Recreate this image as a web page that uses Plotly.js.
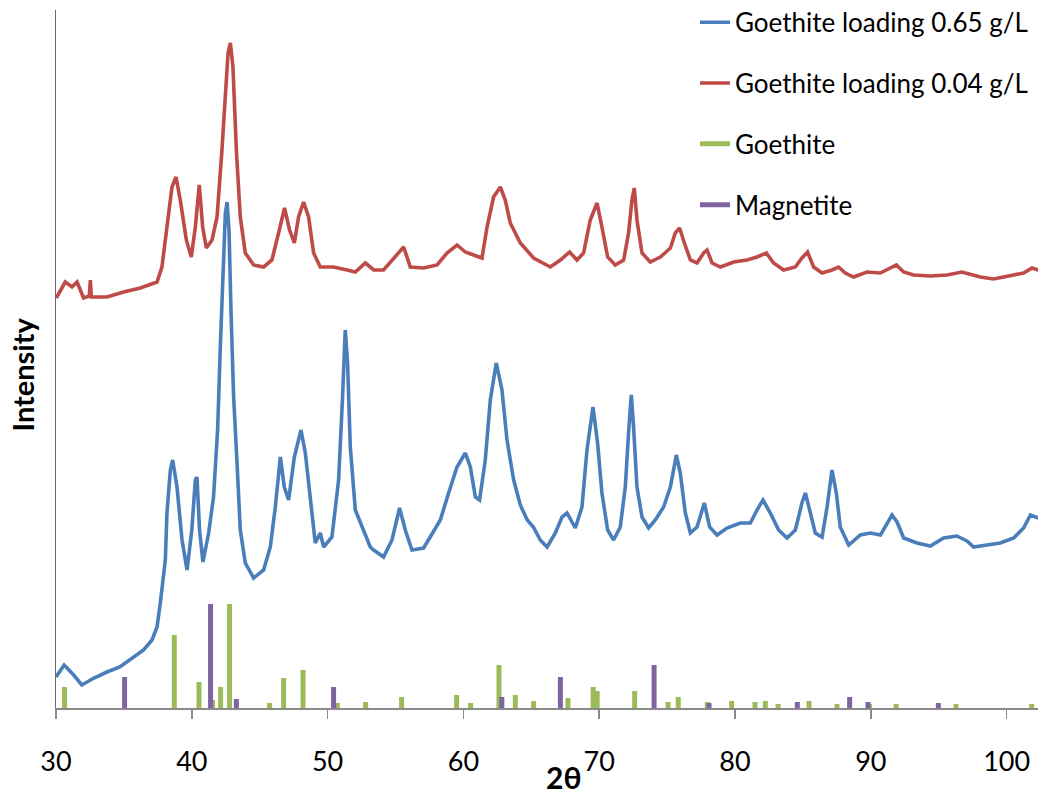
<!DOCTYPE html>
<html>
<head>
<meta charset="utf-8">
<script src="https://cdn.plot.ly/plotly-3.0.1.min.js"></script>
<style>
  html, body { margin: 0; padding: 0; background: #fff; }
  #chart { width: 1042px; height: 798px; }
</style>
</head>
<body>
<div id="chart"></div>
<script>
// ---- Data (2θ in degrees, intensity in arbitrary units) ----
const seriesNames = ["Goethite loading 0.65 g/L", "Goethite loading 0.04 g/L", "Goethite", "Magnetite"];

const blue2Theta = [30.0, 30.6, 31.3, 31.9, 32.8, 33.75, 34.7, 35.7, 36.45, 37.07, 37.44, 37.68, 37.88, 38.05, 38.17, 38.42, 38.59, 38.91, 39.28, 39.65, 40.0, 40.26, 40.38, 40.57, 40.82, 41.24, 41.6, 41.9, 42.1, 42.3, 42.47, 42.6, 42.74, 42.89, 43.08, 43.33, 43.57, 43.94, 44.55, 45.29, 45.78, 46.15, 46.52, 46.81, 47.13, 47.55, 48.04, 48.36, 48.73, 49.09, 49.46, 49.71, 50.32, 50.81, 51.1, 51.3, 51.47, 51.67, 52.04, 52.41, 53.14, 53.39, 54.12, 54.74, 55.3, 55.72, 56.21, 57.07, 57.69, 58.3, 58.91, 59.53, 60.14, 60.51, 60.88, 61.19, 61.61, 61.98, 62.42, 62.84, 63.21, 63.7, 64.19, 64.7, 65.15, 65.66, 66.16, 66.77, 67.26, 67.63, 68.24, 68.73, 69.1, 69.54, 69.88, 70.2, 70.62, 71.06, 71.55, 71.92, 72.16, 72.36, 72.53, 72.78, 73.15, 73.64, 74.13, 74.74, 75.24, 75.68, 75.97, 76.34, 76.71, 77.2, 77.74, 78.13, 78.67, 79.41, 80.39, 81.13, 81.62, 82.06, 82.6, 83.21, 83.83, 84.44, 84.93, 85.18, 85.55, 85.91, 86.41, 86.78, 87.14, 87.46, 87.75, 88.37, 89.23, 89.97, 90.71, 91.19, 91.56, 91.93, 92.42, 93.4, 94.38, 95.36, 96.34, 97.08, 97.57, 98.55, 99.53, 100.52, 101.25, 101.75, 102.33];
const blueIntensity = [31, 43, 33, 23, 30, 36, 41, 51, 58, 68, 81, 105, 128, 148, 195, 238, 248, 221, 168, 138, 178, 228, 231, 178, 146, 175, 211, 278, 361, 445, 495, 506, 478, 395, 311, 245, 178, 145, 130, 138, 161, 201, 251, 221, 208, 251, 278, 255, 208, 165, 175, 161, 171, 228, 311, 378, 345, 261, 198, 185, 161, 158, 151, 168, 200, 178, 158, 160, 175, 188, 215, 241, 255, 241, 211, 208, 248, 308, 345, 318, 268, 228, 203, 188, 181, 168, 161, 175, 191, 195, 180, 201, 258, 301, 265, 215, 178, 168, 181, 221, 275, 313, 281, 221, 191, 180, 188, 201, 221, 253, 235, 195, 175, 181, 205, 181, 173, 180, 185, 185, 198, 208, 195, 178, 170, 178, 205, 215, 195, 175, 171, 201, 238, 215, 181, 163, 173, 175, 173, 185, 193, 186, 170, 165, 162, 170, 172, 167, 161, 163, 165, 170, 180, 193, 190];

const red2Theta = [30.02, 30.68, 31.18, 31.55, 32.03, 32.45, 32.53, 32.6, 33.76, 34.98, 36.21, 37.44, 37.8, 38.17, 38.54, 38.84, 39.15, 39.6, 39.96, 40.26, 40.55, 40.8, 41.07, 41.49, 41.86, 42.22, 42.47, 42.67, 42.84, 43.03, 43.28, 43.57, 43.94, 44.55, 45.29, 45.9, 46.39, 46.83, 47.2, 47.55, 47.86, 48.23, 48.6, 48.97, 49.46, 50.44, 51.43, 52.04, 52.78, 53.39, 54.12, 54.99, 55.6, 56.09, 57.07, 58.06, 58.79, 59.53, 60.14, 60.75, 61.37, 61.74, 62.22, 62.72, 63.08, 63.45, 64.19, 65.17, 66.4, 67.14, 67.82, 68.36, 68.85, 69.34, 69.84, 70.2, 70.62, 71.18, 71.8, 72.16, 72.41, 72.58, 72.78, 73.15, 73.76, 74.5, 75.24, 75.6, 75.92, 76.27, 76.71, 77.2, 77.69, 77.94, 78.31, 78.92, 79.9, 80.88, 81.62, 82.31, 82.84, 83.58, 84.44, 84.93, 85.34, 85.79, 86.41, 87.14, 87.63, 88.12, 88.73, 89.72, 90.7, 91.43, 91.88, 92.42, 93.15, 94.38, 95.61, 96.71, 98.06, 99.04, 100.27, 101.25, 101.87, 102.33];
const redIntensity = [410, 426, 421, 426, 410, 412, 428, 411, 411, 416, 420, 426, 441, 481, 521, 531, 508, 468, 451, 481, 523, 481, 460, 468, 491, 558, 621, 655, 665, 641, 558, 491, 455, 443, 441, 448, 475, 500, 478, 465, 491, 506, 491, 455, 441, 441, 438, 436, 445, 438, 438, 451, 461, 441, 440, 443, 455, 463, 456, 453, 450, 481, 511, 521, 508, 485, 465, 450, 441, 448, 456, 448, 455, 488, 505, 481, 451, 443, 448, 475, 508, 520, 488, 455, 446, 451, 460, 475, 480, 465, 448, 445, 455, 458, 445, 441, 446, 448, 451, 455, 445, 438, 441, 450, 456, 441, 435, 438, 441, 435, 431, 436, 435, 440, 443, 436, 433, 432, 433, 436, 431, 429, 432, 435, 440, 438];

const goethite2Theta = [30.63, 38.71, 40.53, 41.53, 42.12, 42.78, 45.73, 46.76, 48.19, 50.71, 52.80, 55.45, 59.50, 60.53, 62.62, 63.82, 65.17, 67.70, 69.55, 69.85, 72.61, 75.07, 75.82, 77.96, 79.75, 81.47, 82.23, 83.17, 85.45, 87.51, 89.9, 91.86, 96.27, 101.84];
const goethiteIntensity = [21, 73, 26, 8, 21, 104, 5, 30, 38, 5, 6, 11, 13, 5, 43, 13, 7, 10, 21, 17, 17, 6, 11, 6, 7, 6, 7, 4, 7, 4, 4, 4, 4, 4];

const magnetite2Theta = [35.05, 41.38, 43.28, 50.44, 62.83, 67.14, 74.04, 78.09, 84.59, 88.44, 89.79, 94.97];
const magnetiteIntensity = [31, 104, 9, 21, 11, 31, 43, 5, 6, 11, 6, 5];

const xTickVals = [30, 40, 50, 60, 70, 80, 90, 100];
const xTickText = ["30", "40", "50", "60", "70", "80", "90", "100"];

// ---- Build traces ----
function sticks(pos, h) {
  const x = [], y = [];
  for (let i = 0; i < pos.length; i++) {
    x.push(pos[i], pos[i], null);
    y.push(0, h[i], null);
  }
  return {x, y};
}
const gS = sticks(goethite2Theta, goethiteIntensity);
const mS = sticks(magnetite2Theta, magnetiteIntensity);

const FONT = "Lato, 'Open Sans', 'DejaVu Sans', sans-serif";

const traces = [
  {x: blue2Theta, y: blueIntensity, name: seriesNames[0], type: "scatter", mode: "lines",
   line: {color: "#4A7EBB", width: 3.6}, legendgroup: "a"},
  {x: red2Theta, y: redIntensity, name: seriesNames[1], type: "scatter", mode: "lines",
   line: {color: "#BE4B48", width: 3.6}, legendgroup: "b"},
  {x: gS.x, y: gS.y, name: seriesNames[2], type: "scatter", mode: "lines", connectgaps: false,
   line: {color: "#9BBB59", width: 5}, legendgroup: "c"},
  {x: mS.x, y: mS.y, name: seriesNames[3], type: "scatter", mode: "lines", connectgaps: false,
   line: {color: "#8064A2", width: 5}, legendgroup: "d"}
];

const layout = {
  width: 1042, height: 798,
  margin: {l: 56, r: 4, t: 10, b: 90, autoexpand: false},
  paper_bgcolor: "#fff", plot_bgcolor: "#fff",
  font: {family: FONT, color: "#000"},
  showlegend: true,
  legend: {
    x: (695 - 56) / 982, xanchor: "left", y: 1.016, yanchor: "top",
    font: {family: FONT, size: 26, color: "#000"},
    bgcolor: "rgba(0,0,0,0)", traceorder: "grouped", tracegroupgap: 24
  },
  xaxis: {
    range: [30, 102.31], tickvals: xTickVals, ticktext: xTickText,
    ticks: "outside", ticklen: 9, tickwidth: 1.5, tickcolor: "#8a8a8a",
    showline: true, linecolor: "#8a8a8a", linewidth: 1.5,
    showgrid: false, zeroline: false, automargin: false,
    tickfont: {family: FONT, size: 27, color: "#000"},
    ticklabelstandoff: 20
  },
  yaxis: {
    range: [0, 698], showticklabels: false, ticks: "",
    showline: true, linecolor: "#6a6a6a", linewidth: 1.5,
    showgrid: false, zeroline: false, automargin: false
  },
  annotations: [
    {text: "<b>Intensity</b>", xref: "paper", yref: "paper", x: (22 - 56) / 982, y: (708 - 374.5) / 698,
     xanchor: "center", yanchor: "middle", textangle: -90, showarrow: false,
     font: {family: FONT, size: 29, color: "#000"}},
    {text: "<b>2θ</b>", xref: "paper", yref: "paper", x: (563 - 56) / 982, y: (708 - 777) / 698,
     xanchor: "center", yanchor: "middle", showarrow: false,
     font: {family: FONT, size: 30, color: "#000"}}
  ]
};

Plotly.newPlot("chart", traces, layout, {displayModeBar: false, staticPlot: true});
</script>
</body>
</html>
